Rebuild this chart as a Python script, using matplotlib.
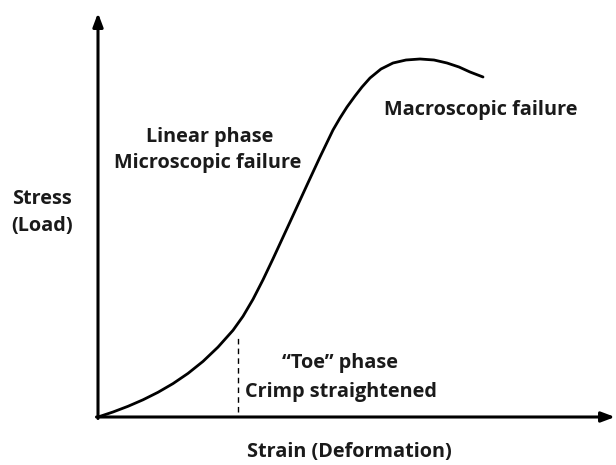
import matplotlib.pyplot as plt

# curva esfuerzo-deformacion (unidades arbitrarias)
strain = [0, 15, 30, 45, 60, 75, 90, 105, 120, 135, 145, 155, 165, 175,
          192, 209, 222, 235, 242, 249, 257, 264, 272, 283, 295, 308, 322,
          336, 349, 361, 372, 385]
stress = [0, 5, 10.7, 17.2, 24.7, 33.4, 43.6, 55.6, 69.9, 86.7, 100.7,
          117.7, 137.2, 158.2, 195, 232, 260, 287, 299, 310, 321, 330, 339,
          348, 354, 357, 358, 357, 354, 350, 345, 340]

toe_end = 140          # fin de la fase "toe"
toe_top = 80

fig = plt.figure(figsize=(6.16, 4.65), dpi=100)
ax = fig.add_axes([0, 0, 1, 1])
ax.set_xlim(-98, 518)
ax.set_ylim(-48, 417)
ax.axis('off')

fnt = dict(family='Open Sans', weight='bold', fontsize=14.3, color='#1a1a1a')

# ejes con flechas
ax.annotate('', xy=(517, 0), xytext=(-1.5, 0),
            arrowprops=dict(arrowstyle='-|>,head_length=0.8,head_width=0.3',
                            lw=2.2, color='black', shrinkA=0, shrinkB=0))
ax.annotate('', xy=(0, 404), xytext=(0, -1.5),
            arrowprops=dict(arrowstyle='-|>,head_length=0.8,head_width=0.3',
                            lw=2.2, color='black', shrinkA=0, shrinkB=0))

ax.plot(strain, stress, color='black', lw=2, solid_capstyle='round',
        solid_joinstyle='round')
ax.plot([toe_end, toe_end], [5, toe_top], color='black', lw=1, ls=(0, (4, 3)))

ax.text(112, 280, 'Linear phase', ha='center', va='center', **fnt)
ax.text(110, 254, 'Microscopic failure', ha='center', va='center', **fnt)
ax.text(383, 307, 'Macroscopic failure', ha='center', va='center', **fnt)
ax.text(-56, 218, 'Stress', ha='center', va='center', **fnt)
ax.text(-56, 191, '(Load)', ha='center', va='center', **fnt)
ax.text(242, 54, '\u201cToe\u201d phase', ha='center', va='center', **fnt)
ax.text(243, 25, 'Crimp straightened', ha='center', va='center', **fnt)
ax.text(251, -35, 'Strain (Deformation)', ha='center', va='center', **fnt)

plt.savefig('out.png', dpi=100)
